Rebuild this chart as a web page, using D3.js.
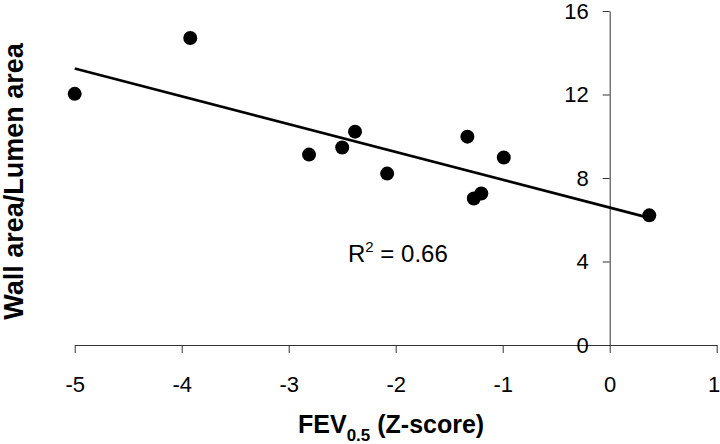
<!DOCTYPE html>
<html>
<head>
<meta charset="utf-8">
<script src="https://cdn.jsdelivr.net/npm/d3@7"></script>
<style>
  body { margin: 0; background: #fff; }
  svg { display: block; font-family: "Liberation Sans", Arial, sans-serif; }
</style>
</head>
<body>
<svg width="720" height="444"></svg>
<script>
// values
const fevZ = [-5.0, -3.92, -2.81, -2.50, -2.38, -2.08, -1.33, -1.27, -1.20, -0.99, 0.37];
const wallRatio = [12.03, 14.71, 9.12, 9.46, 10.22, 8.21, 9.98, 7.02, 7.26, 8.98, 6.21];
const xTicks = [-5, -4, -3, -2, -1, 0, 1];
const yTicks = [0, 4, 8, 12, 16];
const r2Label = "0.66";

const svg = d3.select("svg");

const x = d3.scaleLinear().domain([-5, 1]).range([74.7, 716.7]);
const y = d3.scaleLinear().domain([0, 16]).range([345, 11]);

const data = fevZ.map((v, i) => [v, wallRatio[i]]);

// least squares trend line
const mx = d3.mean(fevZ), my = d3.mean(wallRatio);
let sxy = 0, sxx = 0;
data.forEach(d => { sxy += (d[0] - mx) * (d[1] - my); sxx += (d[0] - mx) ** 2; });
const slope = sxy / sxx;
const icpt = my - slope * mx;
const xExt = d3.extent(fevZ);

// x axis on y = 0
const gx = svg.append("g")
  .attr("transform", `translate(0,${y(0)})`)
  .call(d3.axisBottom(x).tickValues(xTicks).tickFormat(d => String(d))
    .tickSize(8).tickSizeOuter(0).tickPadding(23));

// y axis on x = 0
const gy = svg.append("g")
  .attr("transform", `translate(${x(0)},0)`)
  .call(d3.axisLeft(y).tickValues(yTicks).tickSize(7).tickSizeOuter(0).tickPadding(14));

[gx, gy].forEach(g => {
  g.selectAll("path, line").attr("stroke", "#333").attr("stroke-width", 1);
  g.selectAll("text").attr("fill", "#000").style("font-size", "22px")
    .style("font-family", "'Liberation Sans', Arial, sans-serif");
});
// last label sits at the very edge, keep it inside
gx.selectAll(".tick").filter(d => d === 1).select("text").attr("dx", -3);

svg.append("line")
  .attr("x1", x(xExt[0])).attr("y1", y(icpt + slope * xExt[0]))
  .attr("x2", x(xExt[1])).attr("y2", y(icpt + slope * xExt[1]))
  .attr("stroke", "#000").attr("stroke-width", 2.8);

svg.append("g").selectAll("circle")
  .data(data)
  .join("circle")
  .attr("cx", d => x(d[0]))
  .attr("cy", d => y(d[1]))
  .attr("r", 7)
  .attr("fill", "#000");

// R^2 label
const r2 = svg.append("text")
  .attr("x", 348).attr("y", 262)
  .style("font-size", "24px");
r2.append("tspan").text("R");
r2.append("tspan").attr("dy", -10).style("font-size", "15px").text("2");
r2.append("tspan").attr("dy", 10).text(" = " + r2Label);

// axis titles
const xt = svg.append("text")
  .attr("x", 298).attr("y", 433)
  .style("font-size", "25px").style("font-weight", "bold");
xt.append("tspan").text("FEV");
xt.append("tspan").attr("dy", 8).style("font-size", "17px").text("0.5");
xt.append("tspan").attr("dy", -8).text(" (Z-score)");

svg.append("text")
  .attr("transform", "translate(23,181.5) rotate(-90)")
  .attr("text-anchor", "middle")
  .style("font-size", "27px").style("font-weight", "bold")
  .text("Wall area/Lumen area");
</script>
</body>
</html>
